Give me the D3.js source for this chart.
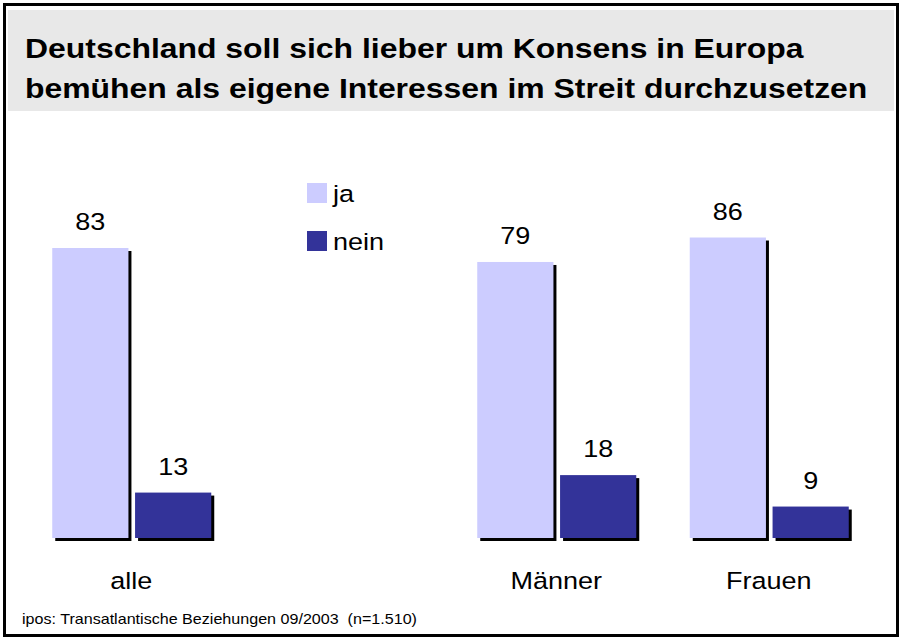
<!DOCTYPE html>
<html>
<head>
<meta charset="utf-8">
<script src="https://cdn.jsdelivr.net/npm/d3@7/dist/d3.min.js"></script>
<style>
  html, body { margin: 0; padding: 0; background: #fff; }
  svg { display: block; }
  text { font-family: "Liberation Sans", Arial, Helvetica, sans-serif; white-space: pre; }
</style>
</head>
<body>
<svg id="chart" width="899" height="637"></svg>
<script>
// Survey data
const categories = ["alle", "Männer", "Frauen"];
const slots = [0, 2, 3];                 // horizontal slot of each group (slot 1 left empty)
const seriesNames = ["ja", "nein"];
const jaValues = [83, 79, 86];
const neinValues = [13, 18, 9];
const titleLines = [
  "Deutschland soll sich lieber um Konsens in Europa",
  "bemühen als eigene Interessen im Streit durchzusetzen"
];
const sourceText = "ipos: Transatlantische Beziehungen 09/2003  (n=1.510)";

const colors = { ja: "#ccccff", nein: "#333399" };
const SX = 1.15;   // horizontal widening of all lettering

const svg = d3.select("#chart");
const W = 899, H = 637;

// place a text at (x, y), widened horizontally around its anchor
function placeText(sel, fx, fy, sx = SX) {
  return sel.attr("x", 0).attr("y", 0)
    .attr("transform", (d, i) => `translate(${fx(d, i)},${fy(d, i)}) scale(${sx},1)`);
}

// frame
svg.append("rect")
  .attr("x", 4.5).attr("y", 4.5)
  .attr("width", W - 6).attr("height", H - 6)
  .attr("fill", "#fff").attr("stroke", "#000").attr("stroke-width", 3);

// title band
svg.append("rect")
  .attr("x", 8).attr("y", 10)
  .attr("width", 886).attr("height", 101)
  .attr("fill", "#e8e8e8");

svg.selectAll("text.title")
  .data(titleLines)
  .join("text")
  .attr("class", "title")
  .call(placeText, () => 25, (d, i) => 58 + i * 40, 1.14)
  .attr("font-size", 28)
  .attr("font-weight", "bold")
  .attr("fill", "#000")
  .text(d => d);

// scales
const baseline = 538;
const y = d3.scaleLinear().domain([0, 100]).range([baseline, baseline - 349.4]);
const x = d3.scaleBand().domain([0, 1, 2, 3]).range([25, 875]);
const inner = d3.scaleBand().domain(seriesNames).range([-79, 80]).paddingInner(0.08);

const rows = categories.map((c, i) => ({
  cat: c,
  slot: slots[i],
  values: [{ key: "ja", v: jaValues[i] }, { key: "nein", v: neinValues[i] }]
}));

const groups = svg.selectAll("g.grp")
  .data(rows)
  .join("g")
  .attr("class", "grp")
  .attr("transform", d => `translate(${x(d.slot) + x.bandwidth() / 2},0)`);

const bars = groups.selectAll("g.bar")
  .data(d => d.values)
  .join("g")
  .attr("class", "bar");

// drop shadow
bars.append("rect")
  .attr("x", d => inner(d.key) + 3)
  .attr("y", d => y(d.v) + 3)
  .attr("width", inner.bandwidth())
  .attr("height", d => baseline - y(d.v))
  .attr("fill", "#000");

bars.append("rect")
  .attr("x", d => inner(d.key))
  .attr("y", d => y(d.v))
  .attr("width", inner.bandwidth())
  .attr("height", d => baseline - y(d.v))
  .attr("fill", d => colors[d.key]);

bars.append("text")
  .call(placeText, d => inner(d.key) + inner.bandwidth() / 2, d => y(d.v) - 18)
  .attr("text-anchor", "middle")
  .attr("font-size", 23.5)
  .attr("fill", "#000")
  .text(d => d.v);

// category labels
groups.append("text")
  .call(placeText, () => 0, () => 589)
  .attr("text-anchor", "middle")
  .attr("font-size", 23.5)
  .attr("fill", "#000")
  .text(d => d.cat);

// legend
const legend = svg.selectAll("g.leg")
  .data(seriesNames)
  .join("g")
  .attr("class", "leg")
  .attr("transform", (d, i) => `translate(307,${183 + i * 48})`);

legend.append("rect")
  .attr("width", 20).attr("height", 20)
  .attr("fill", d => colors[d]);

legend.append("text")
  .call(placeText, () => 26, () => 19)
  .attr("font-size", 23.5)
  .attr("fill", "#000")
  .text(d => d);

// source note
svg.append("text")
  .datum(sourceText)
  .call(placeText, () => 22, () => 624)
  .attr("font-size", 14)
  .attr("fill", "#000")
  .text(d => d);
</script>
</body>
</html>
